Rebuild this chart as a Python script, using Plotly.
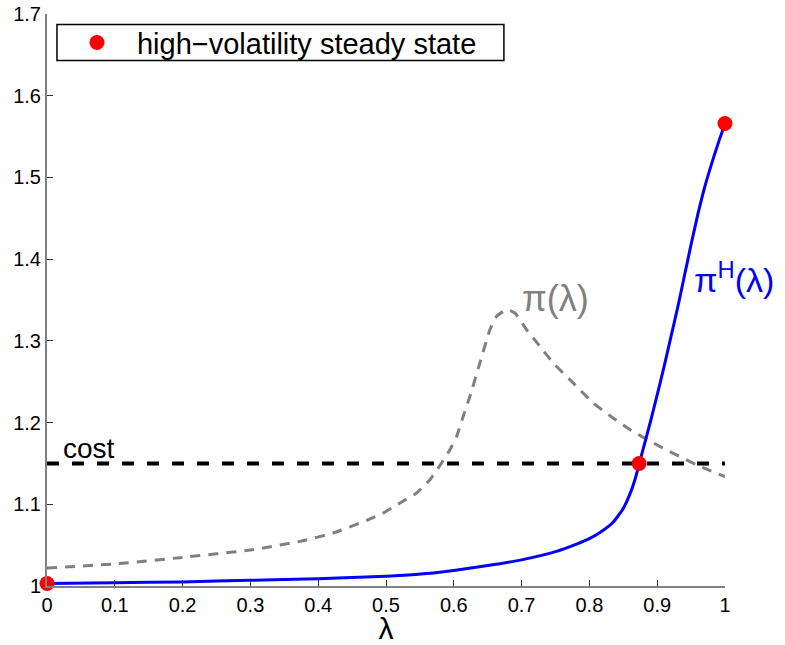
import plotly.graph_objects as go

# pi^H(lambda) : high-volatility curve (blue)
lam_H = [0.0, 0.1, 0.2, 0.3, 0.4, 0.5, 0.57, 0.6, 0.65, 0.7, 0.75, 0.78, 0.8, 0.82,
         0.835, 0.85, 0.86, 0.8675, 0.8733, 0.88, 0.89, 0.9, 0.91, 0.92, 0.93, 0.94,
         0.95, 0.96, 0.97, 0.98, 0.99, 1.0]
pi_H = [1.003, 1.004, 1.005, 1.007, 1.009, 1.012, 1.016, 1.019, 1.025, 1.032, 1.042,
        1.051, 1.058, 1.068, 1.078, 1.095, 1.113, 1.131, 1.149, 1.170, 1.201, 1.234,
        1.268, 1.304, 1.340, 1.379, 1.418, 1.455, 1.488, 1.516, 1.542, 1.566]

# pi(lambda) : grey dashed curve
lam_P = [0.0, 0.1, 0.2, 0.3, 0.3733, 0.4224, 0.4716, 0.496, 0.5206, 0.5452, 0.5648,
         0.5821, 0.5943, 0.6042, 0.6139, 0.6238, 0.6385, 0.6533, 0.6631, 0.6778, 0.6901,
         0.7073, 0.7269, 0.7465, 0.776, 0.8055, 0.835, 0.8644, 0.9037, 0.9626, 1.0]
pi_P = [1.022, 1.027, 1.035, 1.044, 1.0546, 1.0649, 1.0803, 1.0893, 1.1016, 1.1138,
        1.1301, 1.1506, 1.1668, 1.1831, 1.2076, 1.2321, 1.273, 1.3137, 1.330, 1.3382,
        1.3341, 1.3137, 1.2933, 1.273, 1.2485, 1.224, 1.2056, 1.189, 1.1709, 1.1464, 1.134]

# cost level
cost_x = [0.0, 1.0]
cost_y = [1.15, 1.15]

# high-volatility steady states
ss_x = [0.0, 0.8733, 1.0]
ss_y = [1.003, 1.15, 1.566]

x_ticks = [0, 0.1, 0.2, 0.3, 0.4, 0.5, 0.6, 0.7, 0.8, 0.9, 1]
x_ticklabels = ["0", "0.1", "0.2", "0.3", "0.4", "0.5", "0.6", "0.7", "0.8", "0.9", "1"]
y_ticks = [1, 1.1, 1.2, 1.3, 1.4, 1.5, 1.6, 1.7]
y_ticklabels = ["1", "1.1", "1.2", "1.3", "1.4", "1.5", "1.6", "1.7"]

FONT = "Liberation Sans, Arial, Helvetica, sans-serif"

fig = go.Figure()
fig.add_trace(go.Scatter(x=cost_x, y=cost_y, mode="lines", showlegend=False,
                         line=dict(color="black", width=4, dash="12px,13px")))
fig.add_trace(go.Scatter(x=lam_P, y=pi_P, mode="lines", showlegend=False,
                         line=dict(color="#808080", width=3, dash="10px,8px", shape="spline", smoothing=0.4)))
fig.add_trace(go.Scatter(x=lam_H, y=pi_H, mode="lines", showlegend=False,
                         line=dict(color="#0000ff", width=3, shape="spline", smoothing=0.5)))
fig.add_trace(go.Scatter(x=ss_x, y=ss_y, mode="markers", name="high\u2212volatility steady state",
                         marker=dict(color="#ff0000", size=15), cliponaxis=False))

fig.add_annotation(x=0.021, y=1.168, xref="x", yref="y", text="cost", showarrow=False,
                   xanchor="left", yanchor="middle", font=dict(family=FONT, size=28, color="black"))
fig.add_annotation(x=0.697, y=1.352, xref="x", yref="y", text="\u03c0(\u03bb)", showarrow=False,
                   xanchor="left", yanchor="middle", font=dict(family=FONT, size=36, color="#808080"))
fig.add_annotation(x=0.952, y=1.378, xref="x", yref="y", text="\u03c0<sup>H</sup>(\u03bb)",
                   showarrow=False, xanchor="left", yanchor="middle",
                   font=dict(family=FONT, size=34, color="#0000ff"))

# legend frame
fig.add_shape(type="rect", xref="paper", yref="paper", x0=0.0147, x1=0.6739, y0=0.9185, y1=0.9815,
              line=dict(color="black", width=1.5), fillcolor="white", layer="below")

fig.update_layout(
    width=785, height=645,
    margin=dict(l=47, r=60, t=14, b=59),
    plot_bgcolor="white", paper_bgcolor="white",
    font=dict(family=FONT, color="black"),
    showlegend=True,
    legend=dict(x=0.0147, y=0.950, xanchor="left", yanchor="middle",
                borderwidth=0, bgcolor="rgba(0,0,0,0)",
                font=dict(family=FONT, size=29, color="black"), itemwidth=70),
    xaxis=dict(range=[0, 1], tickvals=x_ticks, ticktext=x_ticklabels, automargin=False,
               showgrid=False, zeroline=False, showline=True, linecolor="#808080", linewidth=2,
               ticks="inside", ticklen=6, tickcolor="#333333", tickwidth=1,
               tickfont=dict(family=FONT, size=20, color="black"),
               title=dict(text="\u03bb", font=dict(family=FONT, size=30, color="black"), standoff=4)),
    yaxis=dict(range=[1, 1.7], tickvals=y_ticks, ticktext=y_ticklabels, automargin=False,
               showgrid=False, zeroline=False, showline=True, linecolor="#808080", linewidth=2,
               ticks="inside", ticklen=6, tickcolor="#333333", tickwidth=1,
               tickfont=dict(family=FONT, size=20, color="black")),
)

fig.write_html("out.html")
